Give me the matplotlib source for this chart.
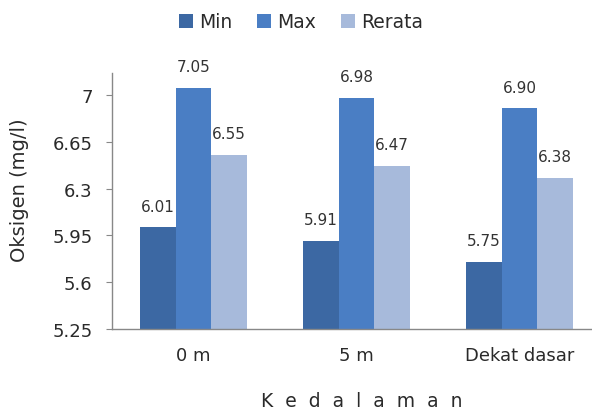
import matplotlib
matplotlib.use("Agg")
import matplotlib.pyplot as plt
import numpy as np

categories = ["0 m", "5 m", "Dekat dasar"]
series_names = ["Min", "Max", "Rerata"]
min_vals = [6.01, 5.91, 5.75]
max_vals = [7.05, 6.98, 6.90]
mean_vals = [6.55, 6.47, 6.38]
yticks = [5.25, 5.6, 5.95, 6.3, 6.65, 7]
ytick_labels = ["5.25", "5.6", "5.95", "6.3", "6.65", "7"]

colors = ["#3C68A3", "#4A7EC4", "#A7BADB"]

plt.rcParams['font.family'] = ['DejaVu Sans']

W, H = 592, 414
fig = plt.figure(figsize=(W / 100, H / 100), dpi=100)
left, right, bottom, top = 112, 601, 330, 74
ax = fig.add_axes([left / W, 1 - bottom / H, (right - left) / W, (bottom - top) / H])

x = np.arange(len(categories))
bw = 0.217
data = [min_vals, max_vals, mean_vals]
for i, (name, vals, c) in enumerate(zip(series_names, data, colors)):
    pos = x + (i - 1) * bw
    ax.bar(pos, np.array(vals) - 5.25, bw, bottom=5.25, color=c, label=name, zorder=2)
    for p, v in zip(pos, vals):
        ax.annotate(f"{v:.2f}", (p, v), xytext=(0, 10), textcoords="offset points",
                    ha="center", va="bottom", fontsize=11, color="#333333", annotation_clip=False,
                    zorder=3)

ax.set_xlim(-0.5, 2.5)
ax.set_ylim(5.25, 7.165)
ax.set_yticks(yticks)
ax.set_yticklabels(ytick_labels)
ax.set_xticks(x)
ax.set_xticklabels(categories)
ax.tick_params(axis='y', length=4, color="#888888", labelsize=13, labelcolor="#2a2a2a", pad=10)
ax.tick_params(axis='x', length=0, labelsize=13, labelcolor="#2a2a2a", pad=12)
for s in ["top", "right"]:
    ax.spines[s].set_visible(False)
for s in ["left", "bottom"]:
    ax.spines[s].set_color("#888888")
    ax.spines[s].set_linewidth(1.0)

fig.text(20 / W, 1 - 190 / H, "Oksigen (mg/l)", rotation=90, ha="center", va="center",
         fontsize=14, color="#2a2a2a")
fig.text(362 / W, 1 - 402 / H, "K  e  d  a  l  a  m  a  n", ha="center", va="center",
         fontsize=13.5, color="#2a2a2a")

fig.legend(loc="center", bbox_to_anchor=(301 / W, 1 - 23 / H), ncol=3, frameon=False,
           fontsize=13.5, handlelength=0.75, handleheight=0.75, handletextpad=0.35, columnspacing=1.3,
           labelcolor="#2a2a2a")

fig.savefig("out.png", dpi=100)
